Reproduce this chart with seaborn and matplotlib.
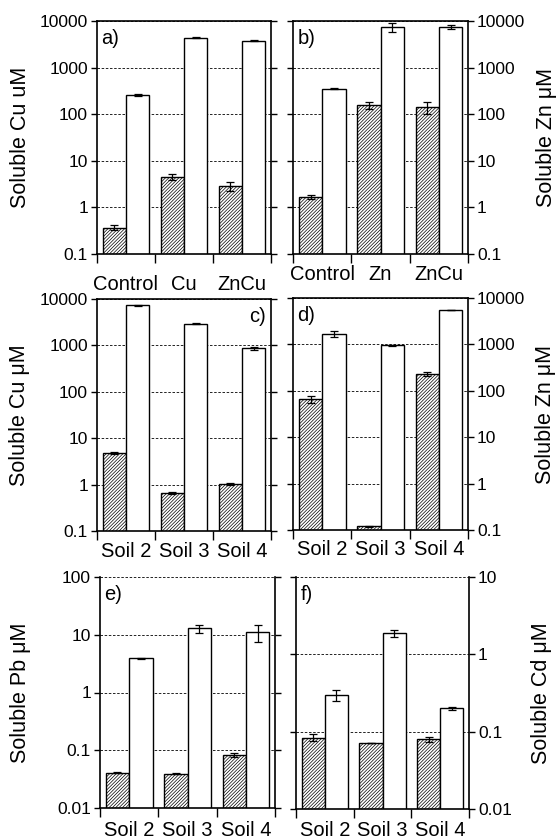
import pandas as pd
import numpy as np
import seaborn as sns
import matplotlib
matplotlib.use("Agg")
import matplotlib.pyplot as plt
from matplotlib.ticker import NullLocator

# categories
treat_cu = ["Control", "Cu", "ZnCu"]
treat_zn = ["Control", "Zn", "ZnCu"]
soils = ["Soil 2", "Soil 3", "Soil 4"]
series = ["hatched", "open"]

# a) soluble Cu, treatments
a_hatched = [0.37, 4.5, 2.9]
a_hatched_err = [0.05, 0.7, 0.6]
a_open = [260, 4400, 3800]
a_open_err = [12, 150, 120]

# b) soluble Zn, treatments
b_hatched = [1.7, 156, 141]
b_hatched_err = [0.15, 25, 40]
b_open = [353, 7400, 7400]
b_open_err = [12, 1500, 800]

# c) soluble Cu, soils
c_hatched = [4.85, 0.66, 1.03]
c_hatched_err = [0.3, 0.03, 0.05]
c_open = [7300, 2950, 870]
c_open_err = [300, 100, 60]

# d) soluble Zn, soils
d_hatched = [67, 0.12, 233]
d_hatched_err = [12, 0.005, 25]
d_open = [1680, 950, 5500]
d_open_err = [250, 40, 0]

# e) soluble Pb, soils
e_hatched = [0.041, 0.0395, 0.082]
e_hatched_err = [0.001, 0.001, 0.007]
e_open = [3.9, 12.9, 11.0]
e_open_err = [0.1, 2.0, 3.5]

# f) soluble Cd, soils
f_hatched = [0.084, 0.0706, 0.080]
f_hatched_err = [0.008, 0.0, 0.006]
f_open = [0.30, 1.86, 0.20]
f_open_err = [0.05, 0.2, 0.01]

sns.set_style("ticks")
plt.rcParams['font.family'] = ['Liberation Sans', 'DejaVu Sans']
plt.rcParams['hatch.linewidth'] = 0.5
plt.rcParams['text.color'] = 'black'
plt.rcParams['axes.labelcolor'] = 'black'
plt.rcParams['xtick.color'] = 'black'
plt.rcParams['ytick.color'] = 'black'


def decade_labels(lo, hi):
    vals = [10.0 ** k for k in range(int(np.log10(lo)), int(np.log10(hi)) + 1)]
    labs = [("%g" % v) for v in vals]
    return vals, labs


def draw_panel(ax, cats, hatched, hatched_err, opn, opn_err, ylim, ylabel,
               side, tag, tag_right, label_x, xpad, open_top):
    df = pd.DataFrame({
        "cat": cats * 2,
        "series": [series[0]] * len(cats) + [series[1]] * len(cats),
        "value": hatched + opn,
    })
    sns.barplot(data=df, x="cat", y="value", hue="series", order=cats,
                hue_order=series, palette={"hatched": "white", "open": "white"},
                edgecolor="black", linewidth=1.0, saturation=1, width=0.8,
                errorbar=None, legend=False, ax=ax)
    ax.set_yscale("log")

    for bar in ax.containers[0]:
        bar.set_hatch("//////////")

    for container, vals, errs in zip(ax.containers, [hatched, opn], [hatched_err, opn_err]):
        xs = [b.get_x() + b.get_width() / 2 for b in container]
        ax.errorbar(xs, vals, yerr=errs, fmt="none", ecolor="black",
                    elinewidth=0.9, capsize=3, capthick=0.9, zorder=4)

    ax.set_ylim(*ylim)
    ax.set_xlim(-0.5, len(cats) - 0.5)
    vals, labs = decade_labels(*ylim)
    ax.set_yticks(vals)
    ax.set_yticklabels(labs)
    ax.yaxis.set_minor_locator(NullLocator())

    ax.set_xticks(range(len(cats)))
    ax.set_xticklabels(cats, fontsize=14.5)
    ax.set_xticks(np.arange(len(cats) + 1) - 0.5, minor=True)
    ax.tick_params(axis="x", which="major", length=0, pad=xpad)
    ax.tick_params(axis="x", which="minor", length=6.5, width=1.0,
                   direction="out", color="black")
    ax.tick_params(axis="y", which="major", direction="out", length=4.5,
                   width=1.0, left=True, right=True, labelsize=12.5,
                   labelleft=(side == "left"), labelright=(side == "right"),
                   pad=2)

    ax.set_xlabel("")
    ax.set_ylabel(ylabel, fontsize=15.5)
    if side == "right":
        ax.yaxis.set_label_position("right")
    ax.yaxis.set_label_coords(label_x, 0.5)

    ax.yaxis.grid(True, which="major", linestyle=(0, (3, 2)),
                  color="black", linewidth=0.6)
    ax.xaxis.grid(False)
    ax.set_axisbelow(True)

    for name, sp in ax.spines.items():
        sp.set_linewidth(1.2)
        sp.set_color("black")
        sp.set_visible(True)
    if open_top:
        ax.spines["top"].set_visible(False)

    if tag_right:
        ax.text(0.97, 0.965, tag, transform=ax.transAxes, ha="right",
                va="top", fontsize=14.5)
    else:
        ax.text(0.025, 0.965, tag, transform=ax.transAxes, ha="left",
                va="top", fontsize=14.5)


fig = plt.figure(figsize=(5.58, 8.4), dpi=100)
W, H = 558.0, 840.0


def frame(x0, x1, y0, y1):
    return [x0 / W, 1 - y1 / H, (x1 - x0) / W, (y1 - y0) / H]


ax_a = fig.add_axes(frame(97, 271, 21, 254))
ax_b = fig.add_axes(frame(293, 468, 21, 254))
ax_c = fig.add_axes(frame(97, 271, 299, 531))
ax_d = fig.add_axes(frame(293, 468, 298, 530))
ax_e = fig.add_axes(frame(100, 275, 577, 808))
ax_f = fig.add_axes(frame(296, 469, 577, 809))

draw_panel(ax_a, treat_cu, a_hatched, a_hatched_err, a_open, a_open_err,
           (0.1, 10000), "Soluble Cu uM", "left", "a)", False, -0.38, 15, False)
draw_panel(ax_b, treat_zn, b_hatched, b_hatched_err, b_open, b_open_err,
           (0.1, 10000), "Soluble Zn μM", "right", "b)", False, 1.39, 8, False)
draw_panel(ax_c, soils, c_hatched, c_hatched_err, c_open, c_open_err,
           (0.1, 10000), "Soluble Cu μM", "left", "c)", True, -0.387, 8, False)
draw_panel(ax_d, soils, d_hatched, d_hatched_err, d_open, d_open_err,
           (0.1, 10000), "Soluble Zn μM", "right", "d)", False, 1.38, 7, False)
draw_panel(ax_e, soils, e_hatched, e_hatched_err, e_open, e_open_err,
           (0.01, 100), "Soluble Pb μM", "left", "e)", False, -0.394, 9, True)
draw_panel(ax_f, soils, f_hatched, f_hatched_err, f_open, f_open_err,
           (0.01, 10), "Soluble Cd μM", "right", "f)", False, 1.36, 9, True)

fig.savefig("out.png", dpi=100)
